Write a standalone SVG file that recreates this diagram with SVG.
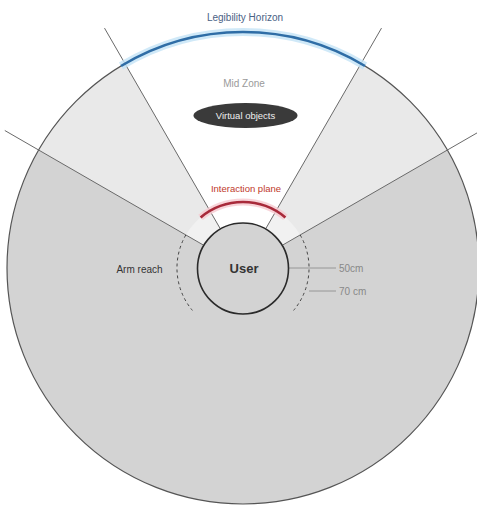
<svg xmlns="http://www.w3.org/2000/svg" width="477" height="506" viewBox="0 0 477 506">
<style>
.t{font-family:"Liberation Sans",Arial,sans-serif;text-anchor:middle}
.ray{stroke:#6a6a6a;stroke-width:1;fill:none}
.dash{stroke:#444;stroke-width:1;fill:none;stroke-dasharray:3 3}
.meas{stroke:#888;stroke-width:0.8;fill:none}
</style>
<rect width="477" height="506" fill="#ffffff"/>
<g id="zones">
<circle cx="243" cy="268" r="236" fill="#d3d3d3"/>
<path d="M243,268 L38.6,150 A236,236 0 0 1 447.4,150 Z" fill="#e9e9e9"/>
<path d="M243,268 L185.8,235 A66,66 0 0 1 300.2,235 Z" fill="#f1f1f1"/>
<path d="M243,268 L125,63.6 A236,236 0 0 1 361,63.6 Z" fill="#ffffff"/>
<circle cx="243" cy="268" r="236" fill="none" stroke="#555" stroke-width="1.2"/>
</g>
<g id="connectors">
<line class="ray" x1="220.2" y1="228.6" x2="104.5" y2="28.1"/>
<line class="ray" x1="265.8" y1="228.6" x2="381.5" y2="28.1"/>
<line class="ray" x1="203.6" y1="245.2" x2="4.8" y2="130.5"/>
<line class="ray" x1="282.4" y1="245.2" x2="481.2" y2="130.5"/>
<line class="meas" x1="288.5" y1="268" x2="336" y2="268"/>
<line class="meas" x1="309" y1="291" x2="336" y2="291"/>
</g>
<g id="legibility-horizon">
<path d="M121,66 A236,236 0 0 1 365,66" fill="none" stroke="#c4e3f6" stroke-width="8" opacity="0.8"/>
<path d="M121,66 A236,236 0 0 1 365,66" fill="none" stroke="#2f6da6" stroke-width="2.6"/>
<text class="t" x="245" y="21" font-size="10" fill="#4a6285">Legibility Horizon</text>
</g>
<g id="mid-zone">
<text class="t" x="244" y="87" font-size="10" fill="#9a9a9a">Mid Zone</text>
</g>
<g id="virtual-objects">
<ellipse cx="245.5" cy="115.5" rx="52" ry="12.5" fill="#3a3a3a"/>
<text class="t" x="245.5" y="119" font-size="9.5" fill="#eeeeee">Virtual objects</text>
</g>
<g id="interaction-plane">
<path d="M200.6,217.4 A66,66 0 0 1 285.4,217.4" fill="none" stroke="#f6c9cf" stroke-width="7" opacity="0.8"/>
<path d="M200.6,217.4 A66,66 0 0 1 285.4,217.4" fill="none" stroke="#a82a3a" stroke-width="2.6"/>
<text class="t" x="246" y="192" font-size="9.5" fill="#c0392b">Interaction plane</text>
</g>
<g id="arm-reach">
<path class="dash" d="M185.8,235 A66,66 0 0 0 192.4,310.4"/>
<path class="dash" d="M300.2,235 A66,66 0 0 1 293.6,310.4"/>
<text class="t" x="139.5" y="273" font-size="10" fill="#333">Arm reach</text>
</g>
<g id="user">
<circle cx="243" cy="268.5" r="45.5" fill="#d3d3d3" stroke="#2a2a2a" stroke-width="1.6"/>
<text class="t" x="244" y="273" font-size="13" font-weight="bold" fill="#333">User</text>
</g>
<g id="labels">
<text x="339" y="271.5" font-size="10" fill="#888" font-family="Liberation Sans, Arial, sans-serif">50cm</text>
<text x="339" y="294.5" font-size="10" fill="#888" font-family="Liberation Sans, Arial, sans-serif">70 cm</text>
</g>
</svg>
